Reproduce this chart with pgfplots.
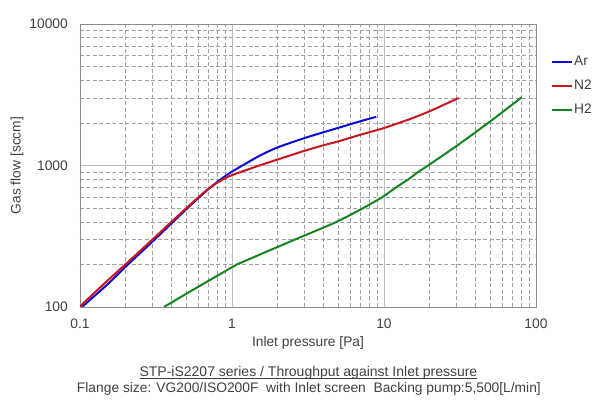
\documentclass[border=0pt]{standalone}
\usepackage{fontspec}
\setmainfont{Liberation Sans}
\usepackage{pgfplots}
\pgfplotsset{compat=1.18}
\definecolor{txt}{RGB}{64,64,64}
\definecolor{arblue}{RGB}{10,10,215}
\definecolor{nred}{RGB}{200,22,30}
\definecolor{hgreen}{RGB}{22,130,32}
\definecolor{majgrid}{RGB}{190,190,190}
\definecolor{mingrid}{RGB}{160,160,160}
\definecolor{boxcol}{RGB}{140,140,140}
\newlength\capw
\newcommand\myul[1]{\settowidth{\capw}{#1}\rlap{#1}\rule[-2.3bp]{\capw}{0.9bp}}
\begin{document}
\begin{tikzpicture}
\path[use as bounding box] (-80bp,-96bp) rectangle (527bp,307bp);
\begin{axis}[
  at={(0,0)}, anchor=south west,
  scale only axis, width=456bp, height=283bp,
  xmode=log, ymode=log,
  xmin=0.1, xmax=100, ymin=100, ymax=10000,
  xtick={0.1,1,10,100}, xticklabels={0.1,1,10,100},
  ytick={100,1000,10000}, yticklabels={100,1000,10000},
  minor xtick={0.2,0.3,0.4,0.5,0.6,0.7,0.8,0.9,2,3,4,5,6,7,8,9,20,30,40,50,60,70,80,90},
  minor ytick={200,300,400,500,600,700,800,900,2000,3000,4000,5000,6000,7000,8000,9000},
  major tick length=0pt, minor tick length=0pt,
  grid=both,
  major grid style={draw=majgrid, line width=0.7bp},
  minor grid style={draw=mingrid, line width=0.6bp, dash pattern=on 4bp off 2.5bp},
  axis line style={draw=boxcol, line width=0.7bp},
  /pgf/number format/assume math mode=true,
  ticklabel style={font=\fontsize{13.8bp}{16bp}\selectfont, text=txt},
  xticklabel style={anchor=north, inner sep=0pt, yshift=-12bp},
  yticklabel style={anchor=east, inner sep=0pt, xshift=-12bp},
  xlabel={Inlet pressure [Pa]},
  ylabel={Gas flow [sccm]},
  label style={font=\fontsize{13.8bp}{16bp}\selectfont, text=txt},
  xlabel style={at={(axis description cs:0.5,-0.127)}, anchor=center, inner sep=0pt},
  ylabel style={at={(axis description cs:-0.138,0.5)}, anchor=center, inner sep=0pt, rotate=0},
  clip mode=individual,
  legend style={at={(axis description cs:1,1)}, anchor=north west, xshift=15bp, yshift=-31bp,
    draw=none, fill=none, inner sep=0pt, row sep=11bp,
    font=\fontsize{13.8bp}{16bp}\selectfont,
    nodes={inner sep=1bp, text=txt}},
  legend cell align=left,
  legend image code/.code={\draw[mark repeat=2,mark phase=2,#1] plot coordinates {(0bp,0bp) (10bp,0bp) (20bp,0bp)};},
]
\addplot[arblue, line width=2bp, smooth, tension=0.4] coordinates {
 (0.103,100) (0.15,143) (0.2,193) (0.3,290) (0.4,390) (0.5,490)
 (0.6,588) (0.7,682) (0.8,765) (0.9,840) (1.0,905) (1.5,1164) (2,1344)
 (3,1562) (4,1718) (5,1845) (7,2055) (8.9,2208)
};
\addlegendentry{Ar}
\addplot[nred, line width=2bp, smooth, tension=0.4] coordinates {
 (0.1,101) (0.15,152) (0.2,201) (0.3,300) (0.4,400) (0.5,498)
 (0.6,595) (0.7,684) (0.8,756) (0.9,811) (1.0,855) (1.5,997)
 (2,1103) (3,1270) (4,1390) (5,1480) (7,1650) (10,1840)
 (15,2140) (20,2420) (31,3000)
};
\addlegendentry{N2}
\addplot[hgreen, line width=2bp, smooth, tension=0.4] coordinates {
 (0.357,100) (0.5,124) (0.7,153) (1.0,191) (1.08,200) (1.5,233)
 (2,266) (2.6,300) (3.5,343) (4.89,400) (7.3,500) (9.8,600)
 (12,700) (14.5,800) (16.8,900) (19.5,1000) (30,1374) (48.5,2000) (80.5,3033)
};
\addlegendentry{H2}
\node[font=\fontsize{14bp}{17bp}\selectfont, text=txt, anchor=base] at (axis description cs:0.501,-0.247)
  {\myul{STP-iS2207 series / Throughput against Inlet pressure}};
\node[font=\fontsize{13.8bp}{16bp}\selectfont, text=txt, anchor=base] at (axis description cs:0.502,-0.302)
  {Flange size: VG200/ISO200F\ \ with Inlet screen\ \ Backing pump:5,500[L/min]};
\end{axis}
\end{tikzpicture}
\end{document}
